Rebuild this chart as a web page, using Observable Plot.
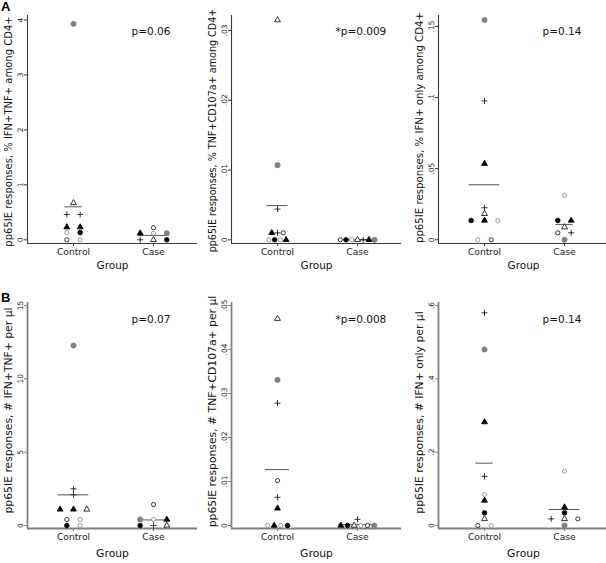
<!DOCTYPE html>
<html><head><meta charset="utf-8">
<script src="https://cdn.jsdelivr.net/npm/d3@7"></script>
<script src="https://cdn.jsdelivr.net/npm/@observablehq/plot@0.6"></script>
<style>
body{margin:0;background:#fff;}
#chart{position:relative;width:606px;height:563px;overflow:hidden;background:#fff;font-family:"DejaVu Sans",sans-serif;}
#chart svg{position:absolute;overflow:visible;background:transparent;}
.letter{position:absolute;font:bold 13px "Liberation Sans",Arial,sans-serif;color:#000;}
</style></head><body><div id="chart"></div>
<script>
// ---------------- data ----------------
const groups = ["Control", "Case"];
// marker codes: O hollow black circle, Og hollow gray circle, F filled black circle,
// G filled gray circle, T filled triangle, Th hollow triangle, P plus
const a1Control   = [3.93, 0.67, 0.46, 0.46, 0.23, 0.23, 0.13, 0.13, 0, 0];
const a1ControlMk = ["G", "Th", "P", "P", "T", "T", "Og", "F", "O", "Og"];
const a1Case      = [0.22, 0.12, 0.12, 0.12, 0, 0, 0];
const a1CaseMk    = ["O", "T", "Og", "G", "P", "Th", "F"];
const a1Means     = [0.6, 0.08];

const a2Control   = [0.0315, 0.0107, 0.0044, 0.001, 0.001, 0.001, 0, 0, 0, 0];
const a2ControlMk = ["Th", "G", "P", "T", "P", "O", "Og", "F", "Og", "T"];
const a2Case      = [0, 0, 0, 0, 0, 0, 0];
const a2CaseMk    = ["O", "F", "Og", "Th", "P", "T", "G"];
const a2Means     = [0.0049, 0];

const a3Control   = [0.1545, 0.0976, 0.0535, 0.0225, 0.0183, 0.0136, 0.0136, 0.0136, 0, 0];
const a3ControlMk = ["G", "P", "T", "P", "Th", "F", "T", "Og", "Og", "O"];
const a3Case      = [0.0312, 0.0136, 0.0136, 0.0089, 0.0049, 0.0049, 0];
const a3CaseMk    = ["Og", "F", "T", "Th", "O", "P", "G"];
const a3Means     = [0.0387, 0.0108];

const b1Control   = [12.27, 2.5, 2.1, 1.1, 1.1, 1.1, 0.41, 0.41, 0, 0];
const b1ControlMk = ["G", "P", "P", "T", "T", "Th", "O", "Og", "F", "Og"];
const b1Case      = [1.43, 0.41, 0.41, 0.41, 0, 0, 0];
const b1CaseMk    = ["O", "G", "Og", "T", "F", "P", "Th"];
const b1Means     = [2.09, 0.38];

const b2Control   = [0.047, 0.0331, 0.0278, 0.0102, 0.0064, 0.0039, 0, 0, 0, 0];
const b2ControlMk = ["Th", "G", "P", "O", "P", "T", "Og", "T", "Og", "F"];
const b2Case      = [0.0014, 0, 0, 0, 0, 0, 0];
const b2CaseMk    = ["P", "T", "F", "Th", "Og", "O", "G"];
const b2Means     = [0.0127, 0.0002];

const b3Control   = [0.58, 0.48, 0.282, 0.134, 0.0845, 0.068, 0.0345, 0.018, 0, 0];
const b3ControlMk = ["P", "G", "T", "P", "Og", "T", "F", "Th", "O", "Og"];
const b3Case      = [0.148, 0.05, 0.0345, 0.018, 0.018, 0.018, 0];
const b3CaseMk    = ["Og", "T", "F", "P", "Th", "O", "G"];
const b3Means     = [0.17, 0.0436];

const yTicks = [
  [0, 1, 2, 3, 4],
  [0, 0.01, 0.02, 0.03],
  [0, 0.05, 0.1, 0.15],
  [0, 5, 10, 15],
  [0, 0.01, 0.02, 0.03, 0.04, 0.05],
  [0, 0.2, 0.4, 0.6]
];
const yTickLabels = [
  ["0", "1", "2", "3", "4"],
  ["0", ".01", ".02", ".03"],
  ["0", ".05", ".1", ".15"],
  ["0", "5", "10", "15"],
  ["0", ".01", ".02", ".03", ".04", ".05"],
  ["0", ".2", ".4", ".6"]
];
const yTitles = [
  "pp65IE responses, % IFN+TNF+ among CD4+",
  "pp65IE responses, % TNF+CD107a+ among CD4+",
  "pp65IE responses, % IFN+ only among CD4+",
  "pp65IE responses, # IFN+TNF+ per μl",
  "pp65IE responses, # TNF+CD107a+ per μl",
  "pp65IE responses, # IFN+ only per μl"
];
const pLabels = ["p=0.06", "*p=0.009", "p=0.14", "p=0.07", "*p=0.008", "p=0.14"];
const panelLetters = ["A", "B"];

// ---------------- styling ----------------
const symbolOf = {O: "circle", Og: "circle", F: "circle", G: "circle", T: "triangle", Th: "triangle", P: "plus"};
const fillOf   = {O: "white", Og: "white", F: "black", G: "#808080", T: "black", Th: "white", P: "none"};
const strokeOf = {O: "#111", Og: "#8a8a8a", F: "black", G: "#808080", T: "black", Th: "#111", P: "black"};
const rOf      = {O: 2.1, Og: 2.1, F: 2.3, G: 2.6, T: 2.2, Th: 2.2, P: 2.1};
const titleSizes = [10, 9.6, 10.2, 10.8, 10.8, 10.8];
const titleDys   = [2, 1, -2, -5, -4, -3];

const FRAME_W = 170;
const X_DOMAIN = [0.425, 2.55];
const axisLefts = [27, 231, 437.5];
const rows = [
  {svgTop: 0, height: 280, frameTop: 15, frameBottom: 243, iT: 4.5, iB: 3.7, axis: "#3a3a3a", axisW: 1.1,
   pDy: 11.7, groupDy: 25, groupSize: 10.5},
  {svgTop: 280, height: 283, frameTop: 302, frameBottom: 528, iT: 3, iB: 3, axis: "#808080", axisW: 1.8,
   pDy: 13, groupDy: 28, groupSize: 10.8}
];

const panels = [
  {ctrl: a1Control, ctrlMk: a1ControlMk, cas: a1Case, casMk: a1CaseMk, means: a1Means},
  {ctrl: a2Control, ctrlMk: a2ControlMk, cas: a2Case, casMk: a2CaseMk, means: a2Means},
  {ctrl: a3Control, ctrlMk: a3ControlMk, cas: a3Case, casMk: a3CaseMk, means: a3Means},
  {ctrl: b1Control, ctrlMk: b1ControlMk, cas: b1Case, casMk: b1CaseMk, means: b1Means},
  {ctrl: b2Control, ctrlMk: b2ControlMk, cas: b2Case, casMk: b2CaseMk, means: b2Means},
  {ctrl: b3Control, ctrlMk: b3ControlMk, cas: b3Case, casMk: b3CaseMk, means: b3Means}
];

const chart = document.getElementById("chart");
const ppuX = FRAME_W / (X_DOMAIN[1] - X_DOMAIN[0]);

function maxRow(vals) { return d3.max(d3.rollup(vals, v => v.length, d => d).values()); }

panels.forEach((p, k) => {
  const row = rows[Math.floor(k / 3)];
  const col = k % 3;
  const mL = 30, mR = 2;
  const mT = row.frameTop - row.svgTop;
  const mB = row.svgTop + row.height - row.frameBottom;
  const H = row.height - mT - mB;
  const ticks = yTicks[k], labels = yTickLabels[k];
  const yTop = Math.max(d3.max(p.ctrl), d3.max(p.cas), d3.max(ticks));
  const ppuY = (H - row.iT - row.iB) / yTop;
  const yDom = [-row.iB / ppuY, yTop + row.iT / ppuY];
  const spacing = 40 / Math.max(maxRow(p.ctrl), maxRow(p.cas));

  const pts = [];
  const meanRows = [];
  [[p.ctrl, p.ctrlMk], [p.cas, p.casMk]].forEach(([vals, mks], gi) => {
    const g = gi + 1;
    const byVal = d3.group(vals.map((v, i) => ({v, t: mks[i]})), d => d.v);
    for (const [v, items] of byVal) {
      const n = items.length;
      items.forEach((d, j) => pts.push({x: g + ((j - (n - 1) / 2) * spacing) / ppuX, y: v, t: d.t}));
    }
    const hw = ((maxRow(vals) - 1) / 2 * spacing + 2) / ppuX;
    meanRows.push({y: p.means[gi], x1: g - hw, x2: g + hw});
  });

  const dotMarks = Object.keys(symbolOf).map(t =>
    Plot.dot(pts.filter(d => d.t === t), {
      x: "x", y: "y", symbol: symbolOf[t], r: rOf[t],
      fill: fillOf[t], stroke: strokeOf[t], strokeWidth: t === "P" ? 0.8 : 0.85
    })
  );

  const svg = Plot.plot({
    width: mL + FRAME_W + mR, height: row.height,
    marginLeft: mL, marginRight: mR, marginTop: mT, marginBottom: mB,
    style: {fontFamily: "DejaVu Sans, sans-serif", background: "transparent", overflow: "visible"},
    x: {domain: X_DOMAIN, axis: null},
    y: {domain: yDom, axis: null},
    marks: [
      Plot.axisY({ticks, tickFormat: d => labels[ticks.indexOf(d)], tickRotate: -90, tickSize: 3, tickPadding: 1.5,
                  fontSize: 7.5, label: null, stroke: row.axis, fill: "#222"}),
      Plot.axisX({ticks: [1, 2], tickFormat: d => groups[d - 1], tickSize: 3, tickPadding: 2,
                  fontSize: 9.2, label: null, stroke: row.axis, fill: "#222"}),
      Plot.ruleX([X_DOMAIN[0]], {stroke: row.axis, strokeWidth: row.axisW}),
      Plot.ruleY([yDom[0]], {stroke: row.axis, strokeWidth: row.axisW}),
      Plot.ruleY(meanRows, {y: "y", x1: "x1", x2: "x2", stroke: "#555", strokeWidth: 1}),
      ...dotMarks,
      Plot.text([yTitles[k]], {frameAnchor: "left", textAnchor: "middle", rotate: -90, dx: -19, dy: titleDys[k],
                               fontSize: titleSizes[k], fill: "#111"}),
      Plot.text([pLabels[k]], {frameAnchor: "top-left", textAnchor: "start", dx: 104, dy: row.pDy, fontSize: 10.5, fill: "#111"}),
      Plot.text(["Group"], {frameAnchor: "bottom", dy: row.groupDy, fontSize: row.groupSize, fill: "#111"})
    ]
  });
  svg.style.left = (axisLefts[col] - mL) + "px";
  svg.style.top = row.svgTop + "px";
  chart.appendChild(svg);
});

panelLetters.forEach((L, i) => {
  const div = document.createElement("div");
  div.className = "letter";
  div.textContent = L;
  div.style.left = "1px";
  div.style.top = (i === 0 ? -1 : 290) + "px";
  chart.appendChild(div);
});
</script></body></html>
